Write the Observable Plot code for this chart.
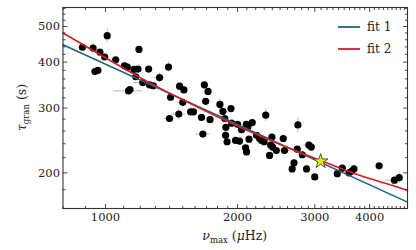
<!DOCTYPE html>
<html><head><meta charset="utf-8">
<script src="https://cdn.jsdelivr.net/npm/d3@7"></script>
<script src="https://cdn.jsdelivr.net/npm/@observablehq/plot@0.6"></script>
<style>
html,body{margin:0;padding:0;background:#fff;}
#wrap{position:relative;width:416px;height:250px;overflow:hidden;}
.legend{position:absolute;left:338px;top:16px;font-family:"DejaVu Serif";font-size:12px;color:#222;}
.legend .row{display:flex;align-items:center;height:22.3px;}
.legend svg{margin-right:7px;display:block;}
</style></head><body><div id="wrap"></div>
<script>
// observed stars: nu_max (μHz) and tau_gran (s)
const nuMax = [886,937,971,1009,996,1055,946,961,1105,1121,1161,1186,1172,1192,1216,1254,1260,1285,1328,1392,
  1128,1137,1407,1475,1509,1500,1469,1399,1563,1587,1655,1731,1680,1713,1692,1823,1852,1932,1870,1667,
  1881,1878,1893,1938,2000,1979,2021,2043,2094,2111,2160,2124,2086,2097,2319,2210,2245,2269,2299,2395,
  2379,2404,2451,2366,2559,2542,2745,2736,2809,2690,2664,2873,2908,2945,2999,3376,3466,3588,3639,3684,
  4205,4556,4672];
const tauGran = [439,437,426,472,413,406,377,380,391,388,382,383,365,433,352,383,347,345,363,388,
  334,337,321,344,336,311,289,281,293,293,283,279,347,333,313,307,294,299,281,255,
  266,253,243,273,271,245,244,262,271,267,274,247,234,228,287,253,248,245,243,250,
  238,235,230,223,230,248,270,232,224,213,205,205,238,235,195,199,206,200,202,205,
  209,191,194];
// error bars (subset with visible bars)
const ebNu   = [1009,937,1128,1216,1328,1392,1469,1399,1667,1500,1823,2319,2745,4556,4672,1878,2908,2559];
const ebTau  = [472,437,334,352,363,388,289,281,255,311,307,287,270,191,194,253,238,230];
const ebDnu  = [0,0,85,59,35,0,55,37,62,40,0,0,0,196,0,0,77,82];
const ebDtau = [21,16,0,0,11,12,11,0,0,0,11,11,12,0,7,14,5,0];
// highlighted star
const starNu = [3093];
const starTau = [215];
// fit curves
const fit1Nu = [800, 4880];
const fit1Tau = [446, 166.5];
const fit2Nu = [800,1000,1200,1500,2000,2500,3000,3500,4000,4500,4880];
const fit2Tau = [480,411,363,316,268,239,219,204,193,185,179];
// legend
const legendLabels = ["fit 1", "fit 2"];
const legendColors = ["#1b6685", "#e0191d"];
// ticks
const xMajor = [1000,2000,3000,4000];
const yMajor = [200,300,400,500];
const xMinor = d3.range(800, 4900, 100).filter(d => d % 1000 !== 0);
const yMinor = d3.range(160, 564, 20).filter(d => d % 100 !== 0);

const pts = nuMax.map((n,i)=>({nu:n, tau:tauGran[i]}));
const eb = ebNu.map((n,i)=>({nu:n, tau:ebTau[i], dnu:ebDnu[i], dtau:ebDtau[i]}));
const ebV = eb.filter(d=>d.dtau>0), ebH = eb.filter(d=>d.dnu>0);
const fit1 = fit1Nu.map((n,i)=>({nu:n, tau:fit1Tau[i]}));
const fit2 = fit2Nu.map((n,i)=>({nu:n, tau:fit2Tau[i]}));
const star = starNu.map((n,i)=>({nu:n, tau:starTau[i]}));

const tickShape = {draw(ctx, l){ ctx.moveTo(0,0); ctx.lineTo(0,-l); }};
const tc = "#333";
function ticks(data, side, len){
  const o = {length: len, anchor:"start", shape: tickShape, stroke: tc, strokeWidth: 0.9};
  if (side==="bottom") return Plot.vector(data, {...o, x:d=>d, frameAnchor:"bottom", rotate:0});
  if (side==="top") return Plot.vector(data, {...o, x:d=>d, frameAnchor:"top", rotate:180});
  if (side==="left") return Plot.vector(data, {...o, y:d=>d, frameAnchor:"left", rotate:90});
  return Plot.vector(data, {...o, y:d=>d, frameAnchor:"right", rotate:-90});
}

const chart = Plot.plot({
  width: 416, height: 250,
  marginLeft: 62.5, marginRight: 9, marginTop: 7, marginBottom: 42,
  x: {type:"log", domain:[800, 4880]},
  y: {type:"log", domain:[160, 563]},
  style: {fontFamily:"DejaVu Serif", fontSize:"11.5px", color:"#222", background:"#fff"},
  marks: [
    Plot.ruleX(ebV, {x:"nu", y1:d=>d.tau-d.dtau, y2:d=>d.tau+d.dtau, stroke:"#bbb", strokeWidth:1}),
    Plot.ruleY(ebH, {y:"tau", x1:d=>d.nu-d.dnu, x2:d=>d.nu+d.dnu, stroke:"#bbb", strokeWidth:1}),
    Plot.dot(pts, {x:"nu", y:"tau", r:3.6, fill:"#000", stroke:"none"}),
    Plot.line(fit1, {x:"nu", y:"tau", stroke:legendColors[0], strokeWidth:1.6}),
    Plot.line(fit2, {x:"nu", y:"tau", stroke:legendColors[1], strokeWidth:1.6, curve:"natural"}),
    Plot.dot(star, {x:"nu", y:"tau", symbol:"star", r:4.6, fill:"#e3e31e", stroke:"#333", strokeWidth:0.8}),
    ticks(xMajor,"bottom",4), ticks(xMajor,"top",4), ticks(xMinor,"bottom",2.2), ticks(xMinor,"top",2.2),
    ticks(yMajor,"left",4), ticks(yMajor,"right",4), ticks(yMinor,"left",2.2), ticks(yMinor,"right",2.2),
    Plot.frame({stroke:"#333", strokeWidth:1.1}),
    Plot.axisX(xMajor, {anchor:"bottom", tickSize:0, tickPadding:4, tickFormat:d=>String(d), label:null}),
    Plot.axisY(yMajor, {anchor:"left", tickSize:0, tickPadding:3, tickFormat:d=>String(d), label:null})
  ]
});
document.getElementById("wrap").appendChild(chart);

const svg = d3.select(chart);
const xl = svg.append("text").attr("x", 234.75).attr("y", 240).attr("text-anchor","middle")
  .attr("font-family","DejaVu Serif").attr("font-size", 12.5).attr("fill","#222");
xl.append("tspan").attr("font-style","italic").text("ν");
xl.append("tspan").attr("dy", 3).attr("font-size", 8.5).text("max");
xl.append("tspan").attr("dy", -3).text(" (");
xl.append("tspan").attr("font-style","italic").text("μ");
xl.append("tspan").text("Hz)");

const yl = svg.append("text").attr("transform","translate(26,107.5) rotate(-90)").attr("text-anchor","middle")
  .attr("font-family","DejaVu Serif").attr("font-size", 12.5).attr("fill","#222");
yl.append("tspan").attr("font-style","italic").text("τ");
yl.append("tspan").attr("dy", 3).attr("font-size", 8.5).text("gran");
yl.append("tspan").attr("dy", -3).text(" (s)");

const lg = document.createElement("div");
lg.className = "legend";
lg.innerHTML = legendLabels.map((t,i)=>`<div class="row"><svg width="22" height="4"><line x1="0" x2="22" y1="2" y2="2" stroke="${legendColors[i]}" stroke-width="1.8"/></svg>${t}</div>`).join("");
document.getElementById("wrap").appendChild(lg);
</script></body></html>
